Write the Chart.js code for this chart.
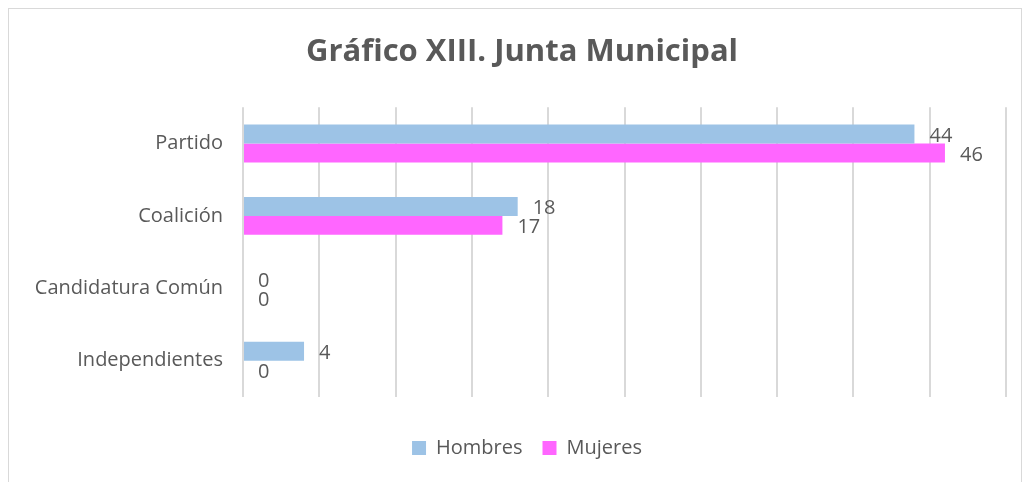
<!DOCTYPE html>
<html>
<head>
<meta charset="utf-8">
<script src="https://cdn.jsdelivr.net/npm/chart.js@4"></script>
<style>
  html, body { margin: 0; padding: 0; background: #ffffff; }
  #frame { position: absolute; left: 8px; top: 8px; width: 1012px; height: 490px; border: 1px solid #d9d9d9; }
  #wrap { position: absolute; left: 0; top: 0; width: 1024px; height: 482px; }
</style>
</head>
<body>
<div id="frame"></div>
<div id="wrap"><canvas id="chart-junta"></canvas></div>
<script>
const categories = ['Partido', 'Coalición', 'Candidatura Común', 'Independientes']
const hombres = [44, 18, 0, 4]
const mujeres = [46, 17, 0, 0]
const axisMin = 0
const axisMax = 50
const axisStep = 5

const textColor = '#595959'
const fontFamily = "'Open Sans', 'Liberation Sans', sans-serif"

// etiquetas de valor al final de cada barra
const barLabels = {
    id: 'barLabels',
    afterDatasetsDraw(chart) {
        const ctx = chart.ctx
        ctx.save()
        ctx.font = '20px ' + fontFamily
        ctx.fillStyle = textColor
        ctx.textAlign = 'left'
        ctx.textBaseline = 'middle'
        chart.data.datasets.forEach((dataset, i) => {
            chart.getDatasetMeta(i).data.forEach((bar, j) => {
                ctx.fillText(String(dataset.data[j]), bar.x + 15, bar.y + 2)
            })
        })
        ctx.restore()
    }
}

// centra titulo y leyenda como en el original (algo a la derecha)
const shiftBlocks = {
    id: 'shiftBlocks',
    afterLayout(chart) {
        if (chart.titleBlock) chart.titleBlock.left += 38
        if (chart.legend) chart.legend.left += 48
    }
}

const init = () => {

    const chartJunta = document.getElementById('chart-junta')

    if (chartJunta) {

        const chartContext = chartJunta.getContext('2d')

        new Chart(chartContext, {

            type: 'bar',
            data: {
                labels: categories,
                datasets: [{
                    label: 'Hombres',
                    data: hombres,
                    backgroundColor: '#9dc3e6',
                    categoryPercentage: 0.524,
                    barPercentage: 1.0
                }, {
                    label: 'Mujeres',
                    data: mujeres,
                    backgroundColor: '#ff66ff',
                    categoryPercentage: 0.524,
                    barPercentage: 1.0
                }]
            },
            options: {
                indexAxis: 'y',
                responsive: false,
                animation: false,
                layout: {
                    padding: { left: 0, right: 18, top: 0, bottom: 14 }
                },
                scales: {
                    x: {
                        min: axisMin,
                        max: axisMax,
                        ticks: { display: false, stepSize: axisStep },
                        grid: { color: '#d9d9d9', lineWidth: 2, drawTicks: false },
                        border: { display: false },
                        afterFit: (scale) => { scale.height = 21 }
                    },
                    y: {
                        ticks: {
                            color: textColor,
                            font: { family: fontFamily, size: 20 },
                            padding: 20
                        },
                        grid: { display: false, drawTicks: false },
                        border: { display: false },
                        afterFit: (scale) => { scale.width = 243 }
                    }
                },
                plugins: {
                    title: {
                        display: true,
                        text: 'Gráfico XIII. Junta Municipal',
                        color: textColor,
                        font: { family: fontFamily, size: 31, weight: 'bold' },
                        padding: { top: 34, bottom: 36 }
                    },
                    legend: {
                        position: 'bottom',
                        labels: {
                            color: textColor,
                            font: { family: fontFamily, size: 20 },
                            boxWidth: 14,
                            boxHeight: 14,
                            padding: 20
                        }
                    },
                    tooltip: { enabled: false }
                }
            },
            plugins: [barLabels, shiftBlocks]

        })

    }

}

const canvas = document.getElementById('chart-junta')
canvas.width = 1024
canvas.height = 482
init()
</script>
</body>
</html>
